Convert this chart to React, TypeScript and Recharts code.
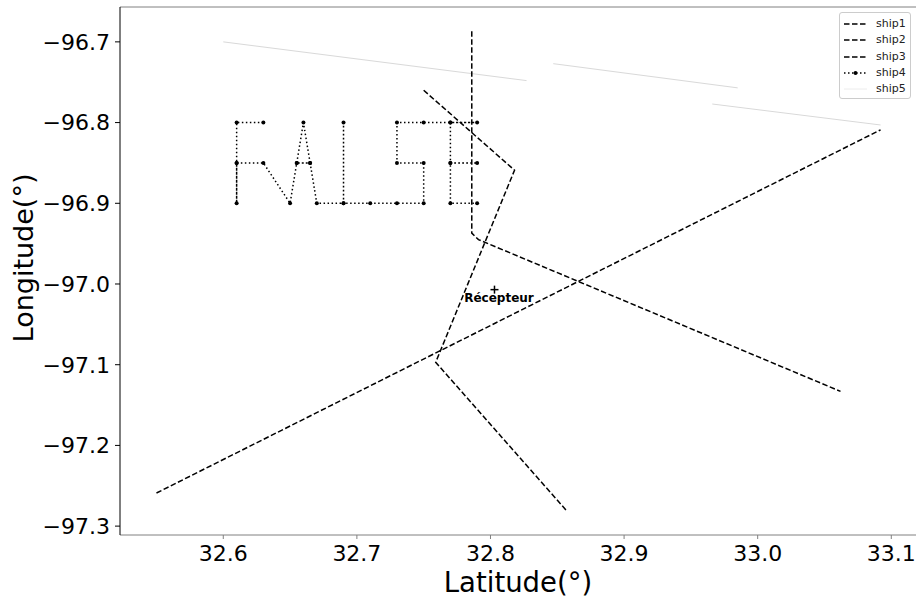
import { ComposedChart, Label, Legend, Line, ReferenceLine, Scatter, XAxis, YAxis } from "recharts"

// tick labels
const latTicks = [32.6, 32.7, 32.8, 32.9, 33.0, 33.1]
const lonTicks = [-97.3, -97.2, -97.1, -97.0, -96.9, -96.8, -96.7]

// ship tracks (lat / lon)
const ship1Lat = [32.55, 33.092]
const ship1Lon = [-97.259, -96.809]

const ship2Lat = [32.75, 32.818, 32.759, 32.857]
const ship2Lon = [-96.76, -96.859, -97.097, -97.281]

const ship3Lat = [32.786, 32.786, 32.791, 33.062]
const ship3Lon = [-96.687, -96.937, -96.945, -97.133]

// "FALSE" drawn with points
const ship4Lat = [
  32.63, 32.61, 32.61, 32.61, 32.61, 32.63, 32.65, 32.655, 32.66, 32.665, 32.655, 32.665, 32.67,
  32.69, 32.69, 32.69, 32.71, 32.73, 32.75, 32.75, 32.73, 32.73, 32.75, 32.77, 32.79, 32.77,
  32.77, 32.79, 32.77, 32.77, 32.79,
]
const ship4Lon = [
  -96.8, -96.8, -96.85, -96.9, -96.85, -96.85, -96.9, -96.85, -96.8, -96.85, -96.85, -96.85, -96.9,
  -96.9, -96.8, -96.9, -96.9, -96.9, -96.9, -96.85, -96.85, -96.8, -96.8, -96.8, -96.8, -96.8,
  -96.85, -96.85, -96.85, -96.9, -96.9,
]

// null = gap in track
const ship5Lat = [32.6, 32.827, 32.837, 32.847, 32.985, 32.975, 32.966, 33.092]
const ship5Lon = [-96.7, -96.748, null, -96.727, -96.757, null, -96.777, -96.803]

const receptorLat = [32.803]
const receptorLon = [-97.007]
const receptorName = "Récepteur"

const shipNames = ["ship1", "ship2", "ship3", "ship4", "ship5"]

const zip = (lat: number[], lon: (number | null)[]) => lat.map((v, i) => ({ lat: v, lon: lon[i] }))

const ship1 = zip(ship1Lat, ship1Lon)
const ship2 = zip(ship2Lat, ship2Lon)
const ship3 = zip(ship3Lat, ship3Lon)
const ship4 = zip(ship4Lat, ship4Lon)
const ship5 = zip(ship5Lat, ship5Lon)
const receptor = zip(receptorLat, receptorLon)

const font = "'DejaVu Sans', sans-serif"
const dash = "5.5 2.5"

const fmtLon = (v: number) => (v < 0 ? "\u2212" : "") + Math.abs(v).toFixed(1)

function ReceptorMark(props: any) {
  const { cx, cy } = props
  return (
    <g>
      <line x1={cx - 4} x2={cx + 4} y1={cy} y2={cy} stroke="#000" strokeWidth={1.5} />
      <line x1={cx} x2={cx} y1={cy - 4} y2={cy + 4} stroke="#000" strokeWidth={1.5} />
      <text x={cx + 4.5} y={cy + 12.4} textAnchor="middle" fontFamily={font} fontSize={12} fontWeight="bold" fill="#000">
        {receptorName}
      </text>
    </g>
  )
}

function ShipLegend() {
  return (
    <div
      style={{
        width: 72,
        height: 87,
        boxSizing: "border-box",
        border: "1px solid #cccccc",
        borderRadius: 3,
        background: "#fff",
        paddingTop: 3,
        paddingLeft: 4,
        fontFamily: font,
        fontSize: 11,
        color: "#222",
      }}
    >
      {shipNames.map((name, i) => (
        <div key={name} style={{ display: "flex", alignItems: "center", height: 16.3 }}>
          <svg width={23} height={10} style={{ display: "block" }}>
            {i < 3 && <line x1={0} x2={23} y1={5} y2={5} stroke="#000" strokeWidth={1.5} strokeDasharray={dash} />}
            {i === 3 && (
              <>
                <line x1={0} x2={23} y1={5} y2={5} stroke="#000" strokeWidth={1.5} strokeDasharray="1.5 2.5" />
                <circle cx={11.5} cy={5} r={2} fill="#000" />
              </>
            )}
            {i === 4 && <line x1={0} x2={23} y1={5} y2={5} stroke="#ececec" strokeWidth={1} />}
          </svg>
          <span style={{ marginLeft: 9, lineHeight: "16px" }}>{name}</span>
        </div>
      ))}
    </div>
  )
}

export default function App() {
  return (
    <div style={{ position: "absolute", left: 0, top: 0, width: 916, height: 601, background: "#fff" }}>
      <ComposedChart width={916} height={601} margin={{ top: 7, right: 0, bottom: 0, left: 0 }}>
        <XAxis
          type="number"
          dataKey="lat"
          domain={[32.5227, 33.1185]}
          allowDataOverflow
          ticks={latTicks}
          tickFormatter={(v: number) => v.toFixed(1)}
          height={66}
          tickSize={4}
          tickMargin={6}
          stroke="#808080"
          tick={{ fill: "#000", fontFamily: font, fontSize: 22 }}
        >
          <Label
            value="Latitude(°)"
            position="insideBottom"
            offset={9}
            style={{ fontFamily: font, fontSize: 27.5, fill: "#000" }}
          />
        </XAxis>
        <YAxis
          type="number"
          dataKey="lon"
          domain={[-97.311, -96.6568]}
          allowDataOverflow
          ticks={lonTicks}
          tickFormatter={fmtLon}
          width={120}
          tickSize={5}
          tickMargin={5}
          stroke="#000"
          tick={{ fill: "#000", fontFamily: font, fontSize: 22 }}
        >
          <Label
            content={() => (
              <text
                x={33}
                y={258}
                transform="rotate(-90, 33, 258)"
                textAnchor="middle"
                fontFamily={font}
                fontSize={27}
                fill="#000"
              >
                Longitude(°)
              </text>
            )}
          />
        </YAxis>
        <ReferenceLine y={-96.6568} stroke="#808080" strokeWidth={1} />
        <Line data={ship5} dataKey="lon" stroke="#d9d9d9" strokeWidth={1} dot={false} isAnimationActive={false} />
        <Line data={ship1} dataKey="lon" stroke="#000" strokeWidth={1.5} strokeDasharray={dash} dot={false} isAnimationActive={false} />
        <Line data={ship2} dataKey="lon" stroke="#000" strokeWidth={1.5} strokeDasharray={dash} dot={false} isAnimationActive={false} />
        <Line data={ship3} dataKey="lon" stroke="#000" strokeWidth={1.5} strokeDasharray={dash} dot={false} isAnimationActive={false} />
        <Line
          data={ship4}
          dataKey="lon"
          stroke="#000"
          strokeWidth={1.5}
          strokeDasharray="1.5 2.5"
          dot={{ r: 2, fill: "#000", stroke: "#000", strokeWidth: 0, strokeDasharray: "0" }}
          isAnimationActive={false}
        />
        <Scatter data={receptor} dataKey="lon" shape={ReceptorMark} isAnimationActive={false} />
        <Legend
          layout="vertical"
          align="center"
          verticalAlign="middle"
          content={<ShipLegend />}
          wrapperStyle={{ left: 839, top: 12, width: 72 }}
        />
      </ComposedChart>
    </div>
  )
}
